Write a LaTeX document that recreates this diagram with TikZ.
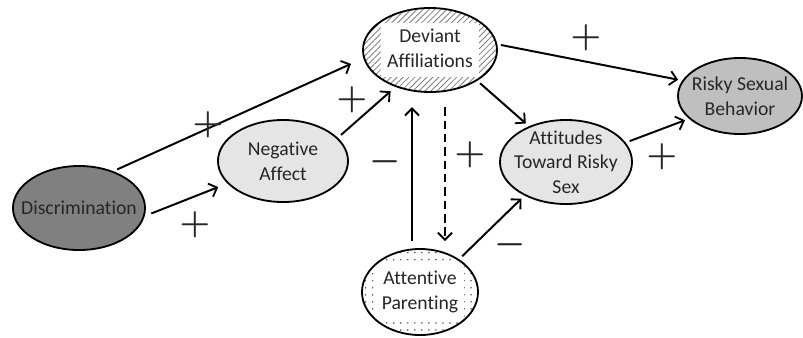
\documentclass[tikz,border=0pt]{standalone}
\usepackage{fontspec}
\setmainfont{Carlito}[Ligatures=NoCommon]
\usetikzlibrary{shapes.geometric,arrows.meta,patterns,patterns.meta}
\newcommand{\whitelabel}[1]{{\setlength{\fboxsep}{2pt}\colorbox{white}{\begin{tabular}{@{\,}c@{\,}}#1\end{tabular}}}}
\tikzset{
  factor/.style={draw,ellipse,line width=1.3pt,inner sep=-2pt,align=center,
    text=black!85,font=\fontsize{14}{17.5}\selectfont},
  path/.style={-{Straight Barb[length=5pt,width=10pt,line width=1.3pt]},line width=1.4pt,
    shorten <=3pt,shorten >=3pt},
  sign/.style={font=\fontsize{24}{24}\selectfont\boldmath,inner sep=0pt,text=black!85}
}
\begin{document}
\begin{tikzpicture}[x=0.025cm,y=-0.025cm,line join=round]
		\useasboundingbox (0,0) rectangle (803,337);
		% constructs
		\node[factor,fill=black!50,inner xsep=-9pt,minimum width=3.3cm,minimum height=2.1cm] (disc) at (79,208) {Discrimination};
		\node[factor,fill=black!10,minimum width=3.25cm,minimum height=2.05cm] (neg) at (283,161) {Negative\\Affect};
		\node[factor,pattern={Lines[angle=45,distance=3pt,line width=0.6pt]},pattern color=black!50,minimum width=3.35cm,minimum height=2.1cm] (dev) at (430,50)
			{\whitelabel{Deviant\\Affiliations}};
		\node[factor,pattern={Dots[distance=5pt,radius=0.6pt]},pattern color=black!70,inner xsep=-3pt,minimum width=2.9cm,minimum height=2.15cm] (par) at (420,292)
			{\whitelabel{Attentive\\Parenting}};
		\node[factor,fill=black!10,inner sep=-4.5pt,minimum width=3.3cm,minimum height=2.1cm] (att) at (566,162) {Attitudes\\Toward Risky\\Sex};
		\node[factor,fill=black!25,inner xsep=-3.5pt,minimum width=3.1cm,minimum height=1.9cm] (risk) at (740,96) {Risky Sexual\\Behavior};
		% paths
		\draw[path,shorten >=10pt] (disc.47)--(dev.187);
		\draw[path,shorten <=5pt,shorten >=7pt] (disc.-7)--(neg.202);
		\draw[path,shorten >=5pt] (neg.23)--(dev.227);
		\draw[path] (dev.5)--(risk.165);
		\draw[path] (dev.-33)--(att.136);
		\draw[path] (att.18)--(risk.204);
		\draw[path,shorten <=5pt,shorten >=10.5pt] ([xshift=-0.2cm]par.north)--([xshift=-0.2cm]par.north |- dev.south);
		\draw[path,dash pattern=on 6pt off 3.5pt,shorten <=10.5pt,shorten >=5pt] ([xshift=0.375cm]dev.south)--([xshift=0.375cm]dev.south |- par.north);
		\draw[path] (par.40)--(att.219);
		% signs
		\node[sign] (s1) at (208,125) {$+$};
		\node[sign] (s2) at (195,225) {$+$};
		\node[sign] (s3) at (352,100) {$+$};
		\node[sign] (s4) at (586,38) {$+$};
		\node[sign] (s5) at (662,157) {$+$};
		\node[sign] (s6) at (385,162) {$-$};
		\node[sign] (s7) at (470,155) {$+$};
		\node[sign] (s8) at (510,245) {$-$};
\end{tikzpicture}
\end{document}
